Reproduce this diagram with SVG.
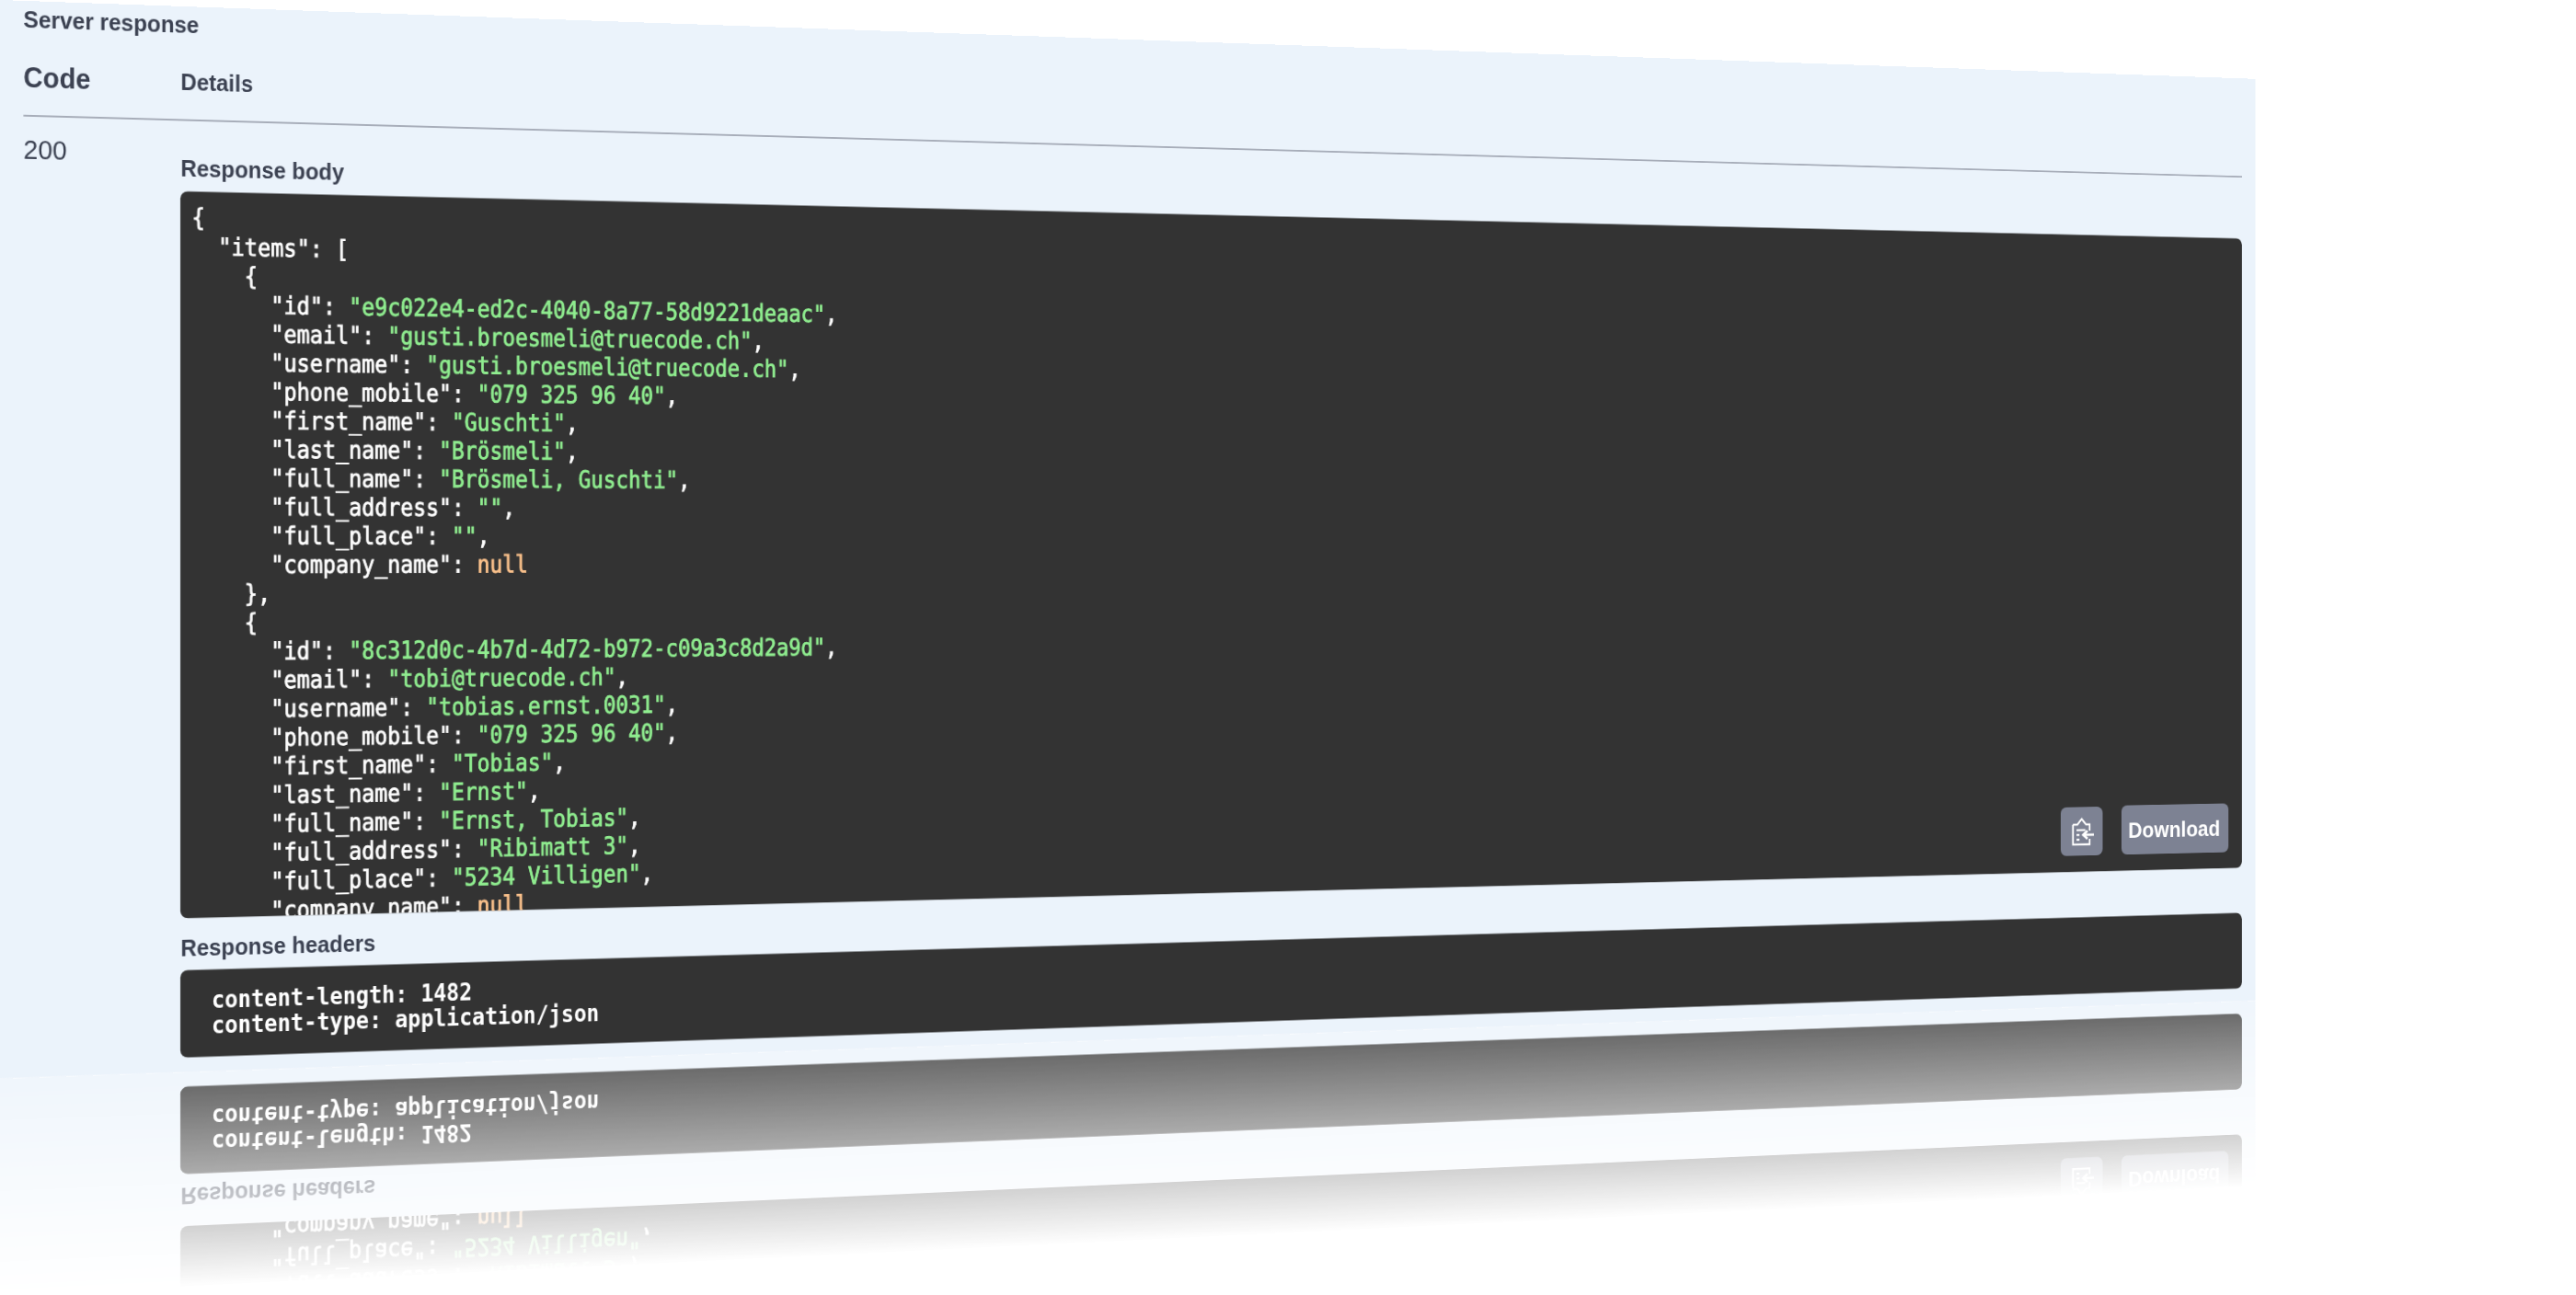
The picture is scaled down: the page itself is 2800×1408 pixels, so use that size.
<svg xmlns="http://www.w3.org/2000/svg" xmlns:xlink="http://www.w3.org/1999/xlink" id="root" width="2800" height="1408" viewBox="0 0 2800 1408">
<style>
#root{transform-origin:0 0;transform:matrix3d(1.05,.036745,0,.00006228,0,1,0,0,0,0,1,0,0,0,0,1);background:transparent}
.l{font-family:"Liberation Sans",Arial,sans-serif;font-weight:700;font-size:26px;fill:#3b4151}
.m{font-family:"DejaVu Sans Mono",monospace;font-weight:400;font-size:27px;fill:#fff;stroke:#fff;stroke-width:.9px}
.h{font-family:"DejaVu Sans Mono",monospace;font-weight:700;font-size:26px;fill:#fff}
.s{fill:#90ee90;stroke:#90ee90}
.n{fill:#fcc28c;stroke:#fcc28c}
.b{fill:#333}
.btn{fill:#7d8293}
</style>
<defs>
<clipPath id="bodyclip"><rect x="188.9" y="203.5" width="2524" height="799.8" rx="8"/></clipPath>
<linearGradient id="fg" gradientUnits="userSpaceOnUse" x1="0" y1="1172.5" x2="0" y2="1410">
<stop offset="0" stop-color="#fff" stop-opacity=".775"/><stop offset="1" stop-color="#fff" stop-opacity="0"/>
</linearGradient>
<mask id="fade" maskUnits="userSpaceOnUse" x="0" y="1172.5" width="2800" height="235.5"><rect x="0" y="1172.5" width="2800" height="235.5" fill="url(#fg)"/></mask>
</defs>
<g id="page">
<rect id="panel" x="0" y="0" width="2732" height="1172.7" fill="#ebf3fb"/>
<g id="labels" transform="scale(.905 1)">
<text class="l" x="26.9" y="29">Server response</text>
<text class="l" x="26.9" y="94" style="font-size:31px">Code</text>
<text class="l" x="209" y="92.5">Details</text>
<text class="l" x="26.9" y="172" style="font-size:30px;font-weight:400">200</text>
<text class="l" x="209" y="187">Response body</text>
<text class="l" x="209" y="1045.5">Response headers</text>
</g>
<line id="rule" x1="24.3" y1="125" x2="2713" y2="125" stroke="#a7adb9" stroke-width="2"/>
<g id="response-body">
<rect class="b" x="188.9" y="203.5" width="2524" height="799.8" rx="8"/>
<g clip-path="url(#bodyclip)"><g transform="scale(.863 1)">
<text class="m" x="233" y="241.2">{</text>
<text class="m" x="265.5" y="273.1">"items": [</text>
<text class="m" x="298" y="304.9">{</text>
<text class="m" x="330.5" y="336.8">"id": <tspan class="s">"e9c022e4-ed2c-4040-8a77-58d9221deaac"</tspan>,</text>
<text class="m" x="330.5" y="368.7">"email": <tspan class="s">"gusti.broesmeli@truecode.ch"</tspan>,</text>
<text class="m" x="330.5" y="400.5">"username": <tspan class="s">"gusti.broesmeli@truecode.ch"</tspan>,</text>
<text class="m" x="330.5" y="432.4">"phone_mobile": <tspan class="s">"079 325 96 40"</tspan>,</text>
<text class="m" x="330.5" y="464.3">"first_name": <tspan class="s">"Guschti"</tspan>,</text>
<text class="m" x="330.5" y="496.2">"last_name": <tspan class="s">"Brösmeli"</tspan>,</text>
<text class="m" x="330.5" y="528">"full_name": <tspan class="s">"Brösmeli, Guschti"</tspan>,</text>
<text class="m" x="330.5" y="559.9">"full_address": <tspan class="s">""</tspan>,</text>
<text class="m" x="330.5" y="591.8">"full_place": <tspan class="s">""</tspan>,</text>
<text class="m" x="330.5" y="623.6">"company_name": <tspan class="n">null</tspan></text>
<text class="m" x="298" y="655.5">},</text>
<text class="m" x="298" y="687.4">{</text>
<text class="m" x="330.5" y="719.2">"id": <tspan class="s">"8c312d0c-4b7d-4d72-b972-c09a3c8d2a9d"</tspan>,</text>
<text class="m" x="330.5" y="751.1">"email": <tspan class="s">"tobi@truecode.ch"</tspan>,</text>
<text class="m" x="330.5" y="783">"username": <tspan class="s">"tobias.ernst.0031"</tspan>,</text>
<text class="m" x="330.5" y="814.9">"phone_mobile": <tspan class="s">"079 325 96 40"</tspan>,</text>
<text class="m" x="330.5" y="846.7">"first_name": <tspan class="s">"Tobias"</tspan>,</text>
<text class="m" x="330.5" y="878.6">"last_name": <tspan class="s">"Ernst"</tspan>,</text>
<text class="m" x="330.5" y="910.5">"full_name": <tspan class="s">"Ernst, Tobias"</tspan>,</text>
<text class="m" x="330.5" y="942.3">"full_address": <tspan class="s">"Ribimatt 3"</tspan>,</text>
<text class="m" x="330.5" y="974.2">"full_place": <tspan class="s">"5234 Villigen"</tspan>,</text>
<text class="m" x="330.5" y="1006.1">"company_name": <tspan class="n">null</tspan></text>
</g></g>
<g id="copy-button">
<rect class="btn" x="2460" y="922" width="58" height="61" rx="8"/>
<path d="M2477 944h6l6-7 6 7h5v8M2500 962v7h-23v-25M2482 951h12M2482 957h4M2482 963h4" fill="none" stroke="#fff" stroke-width="2.4"/>
<path d="M2506 957h-14M2497 952l-6 5 6 5" fill="none" stroke="#fff" stroke-width="3"/>
</g>
<g id="download-button">
<rect class="btn" x="2544" y="921" width="150" height="62" rx="8"/>
<text class="l" transform="translate(2553.5 962) scale(.947 1)" style="font-size:28.5px;fill:#fff">Download</text>
</g>
</g>
<g id="response-headers">
<rect class="b" x="188.9" y="1060.5" width="2524" height="96.1" rx="8"/>
<g transform="scale(.902 1)">
<text class="h" x="246" y="1103">content-length: 1482</text>
<text class="h" x="246" y="1131.3">content-type: application/json</text>
</g>
</g>
</g>
<g id="reflection" mask="url(#fade)">
<use href="#page" xlink:href="#page" transform="matrix(1 0 0 -1 0 2345.2)"/>
</g>
</svg>
